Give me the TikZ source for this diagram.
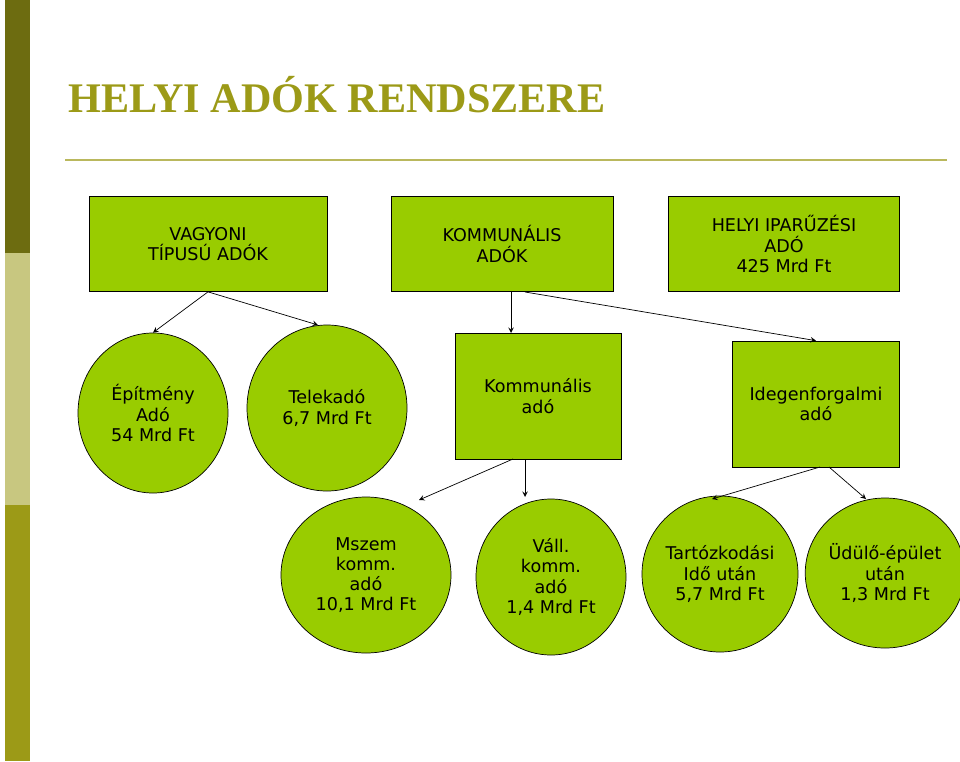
\documentclass[tikz,border=0pt]{standalone}
\usepackage{fontspec}
\setmainfont{DejaVu Sans}
\newfontfamily\titlefont{Liberation Serif}
\usetikzlibrary{shapes.geometric}
\definecolor{leaf}{HTML}{99CC00}
\definecolor{olive}{HTML}{9C9A17}
\begin{document}
\begin{tikzpicture}[x=0.02cm,y=-0.02cm]
  % Styles
  \tikzset{box/.style={rectangle, draw, fill=leaf, align=center, font=\fontsize{10}{11.5}\selectfont},
           oval/.style={ellipse, draw, fill=leaf, align=center, inner sep=0pt, font=\fontsize{10}{11.5}\selectfont},
           edge/.style={->, >=stealth}}
  \useasboundingbox (0,0) rectangle (960,761);
  % Side bar and title
  \fill[olive!70!black] (5,0) rectangle (30,253);
  \fill[olive!55!white] (5,253) rectangle (30,505);
  \fill[olive] (5,505) rectangle (30,761);
  \node[anchor=west, text=olive, font=\titlefont\bfseries\fontsize{24}{26}\selectfont] (title) at (62,95) {HELYI ADÓK RENDSZERE};
  \draw[olive!70, line width=1pt] (65,160) -- (947,160);

  % Nodes
  \node[box, minimum width=238*0.02cm, minimum height=95*0.02cm] (vag) at (208,244) {VAGYONI\\TÍPUSÚ ADÓK};
  \node[box, minimum width=222*0.02cm, minimum height=95*0.02cm] (kom) at (502,244) {KOMMUNÁLIS\\ADÓK};
  \node[box, minimum width=231*0.02cm, minimum height=95*0.02cm] (ipa) at (784,244) {HELYI IPARŰZÉSI\\ADÓ\\425 Mrd Ft};
  \node[oval, minimum width=150*0.02cm, minimum height=160*0.02cm] (epi) at (153,413) {Építmény\\Adó\\54 Mrd Ft};
  \node[oval, minimum width=160*0.02cm, minimum height=166*0.02cm] (tel) at (327,408) {Telekadó\\6,7 Mrd Ft};
  \node[box, minimum width=166*0.02cm, minimum height=126*0.02cm] (kad) at (538,396) {Kommunális\\adó};
  \node[box, minimum width=167*0.02cm, minimum height=126*0.02cm] (ide) at (816,404) {Idegenforgalmi\\adó};
  \node[oval, minimum width=170*0.02cm, minimum height=156*0.02cm] (msz) at (366,575) {Mszem\\komm.\\adó\\10,1 Mrd Ft};
  \node[oval, minimum width=150*0.02cm, minimum height=156*0.02cm] (val) at (551,577) {Váll.\\komm.\\adó\\1,4 Mrd Ft};
  \node[oval, minimum width=156*0.02cm, minimum height=156*0.02cm] (tar) at (720,574) {Tartózkodási\\Idő után\\5,7 Mrd Ft};
  \node[oval, minimum width=144*0.02cm, minimum height=150*0.02cm] (udu) at (885,573) {Üdülő-épület\\után\\1,3 Mrd Ft};

  % Edges
  \draw[edge] (vag.south) -- (epi.north);
  \draw[edge] (vag.south) -- (318,325);
  \draw[edge] (511,292) -- (511,333);
  \draw[edge] (525,292) -- (ide.north);
  \draw[edge] (513,459) -- (419,500);
  \draw[edge] (525,459) -- (525,497);
  \draw[edge] (820,467) -- (712,499);
  \draw[edge] (829,467) -- (866,499);
\end{tikzpicture}
\end{document}
